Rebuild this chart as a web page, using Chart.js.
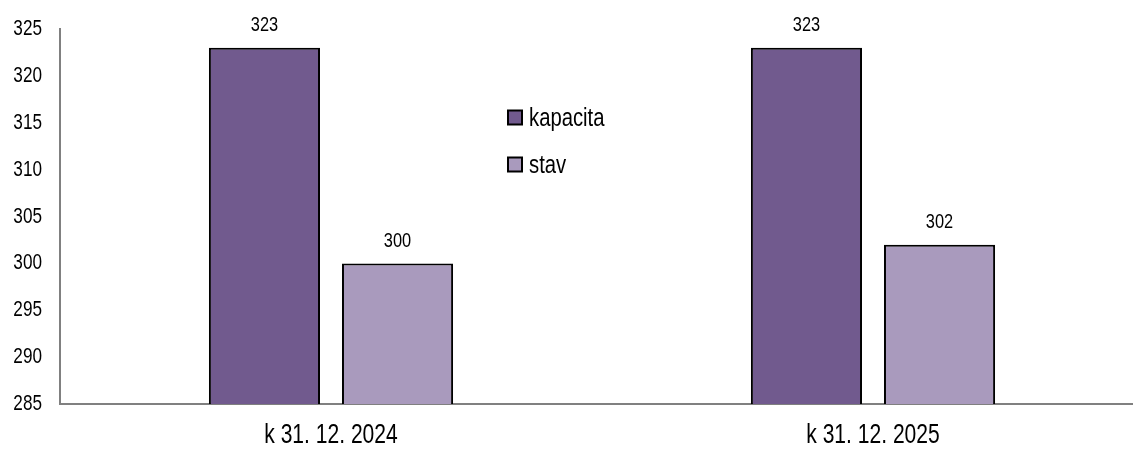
<!DOCTYPE html>
<html>
<head>
<meta charset="utf-8">
<script src="https://cdn.jsdelivr.net/npm/chart.js@4"></script>
<style>
  html, body { margin: 0; padding: 0; background: #fff; overflow: hidden; }
  #wrap { width: 1133px; height: 449px; }
</style>
</head>
<body>
<div id="wrap"><canvas id="chart"></canvas></div>
<script>
const categories = ["k 31. 12. 2024", "k 31. 12. 2025"];
const kapacita = [323, 323];
const stav = [300, 302];
const seriesNames = ["kapacita", "stav"];
const colors = ["#715a8e", "#a99abd"];

const FONT = '"Liberation Sans", Arial, sans-serif';
const NARROW = 0.78; // no Arial Narrow here, so squeeze Liberation Sans

function narrowText(ctx, text, x, y, size, align, baseline) {
    ctx.save();
    ctx.translate(x, y);
    ctx.scale(NARROW, 1);
    ctx.font = size + 'px ' + FONT;
    ctx.textAlign = align;
    ctx.textBaseline = baseline;
    ctx.fillStyle = '#000';
    ctx.fillText(text, 0, 0);
    ctx.restore();
}

// the category axis in the original runs a little past the canvas edge
const stretchX = {
    id: 'stretchX',
    afterLayout(chart) {
        const x = chart.scales.x;
        x.right = chart.chartArea.right + 11;
        x.width = x.right - x.left;
        x.configure();
    },
    beforeDatasetsDraw(chart) {
        const ctx = chart.ctx, a = chart.chartArea;
        ctx.save();
        ctx.strokeStyle = '#808080';
        ctx.lineWidth = 2;
        ctx.beginPath();
        ctx.moveTo(a.left - 1, a.bottom);
        ctx.lineTo(a.right, a.bottom);
        ctx.stroke();
        ctx.restore();
    }
};

// tick labels, value labels and legend drawn in narrow type
const overlay = {
    id: 'overlay',
    afterDatasetsDraw(chart) {
        const ctx = chart.ctx;
        const xs = chart.scales.x, ys = chart.scales.y;
        ys.ticks.forEach((t, i) => {
            narrowText(ctx, String(t.value), ys.right - 18, ys.getPixelForTick(i), 22, 'right', 'middle');
        });
        xs.ticks.forEach((t, i) => {
            narrowText(ctx, categories[t.value], xs.getPixelForTick(i), chart.chartArea.bottom + 32, 27, 'center', 'middle');
        });
        chart.data.datasets.forEach((ds, i) => {
            chart.getDatasetMeta(i).data.forEach((bar, j) => {
                narrowText(ctx, String(ds.data[j]), bar.x, bar.y - 16.5, 21, 'center', 'alphabetic');
            });
        });
        // legend
        const lx = 508, ly = [117.5, 164.5];
        chart.data.datasets.forEach((ds, i) => {
            ctx.save();
            ctx.fillStyle = ds.backgroundColor;
            ctx.fillRect(lx, ly[i] - 7, 14, 14);
            ctx.strokeStyle = '#000';
            ctx.lineWidth = 2;
            ctx.strokeRect(lx, ly[i] - 7, 14, 14);
            ctx.restore();
            narrowText(ctx, ds.label, lx + 21, ly[i] + 1, 26, 'left', 'middle');
        });
    }
};

new Chart(document.getElementById("chart"), {
    type: 'bar',
    data: {
        labels: categories,
        datasets: [{
            label: seriesNames[0],
            data: kapacita,
            backgroundColor: colors[0],
            borderColor: '#000',
            borderWidth: 2,
            borderSkipped: 'bottom'
        }, {
            label: seriesNames[1],
            data: stav,
            backgroundColor: colors[1],
            borderColor: '#000',
            borderWidth: 2,
            borderSkipped: 'bottom'
        }]
    },
    options: {
        responsive: true,
        maintainAspectRatio: false,
        animation: false,
        layout: {
            padding: { top: 29, right: 0, left: 0, bottom: 0 }
        },
        datasets: {
            bar: {
                categoryPercentage: 0.491,
                barPercentage: 0.835
            }
        },
        plugins: {
            legend: { display: false },
            tooltip: { enabled: false }
        },
        scales: {
            x: {
                grid: { display: false, drawTicks: false },
                border: { display: false },
                ticks: { display: false },
                afterFit(scale) { scale.height = 45; }
            },
            y: {
                min: 285,
                max: 325,
                grid: { display: false, drawTicks: false },
                border: { color: '#808080', width: 2 },
                ticks: { stepSize: 5, display: false },
                afterFit(scale) { scale.width = 60; }
            }
        }
    },
    plugins: [stretchX, overlay]
});
</script>
</body>
</html>
